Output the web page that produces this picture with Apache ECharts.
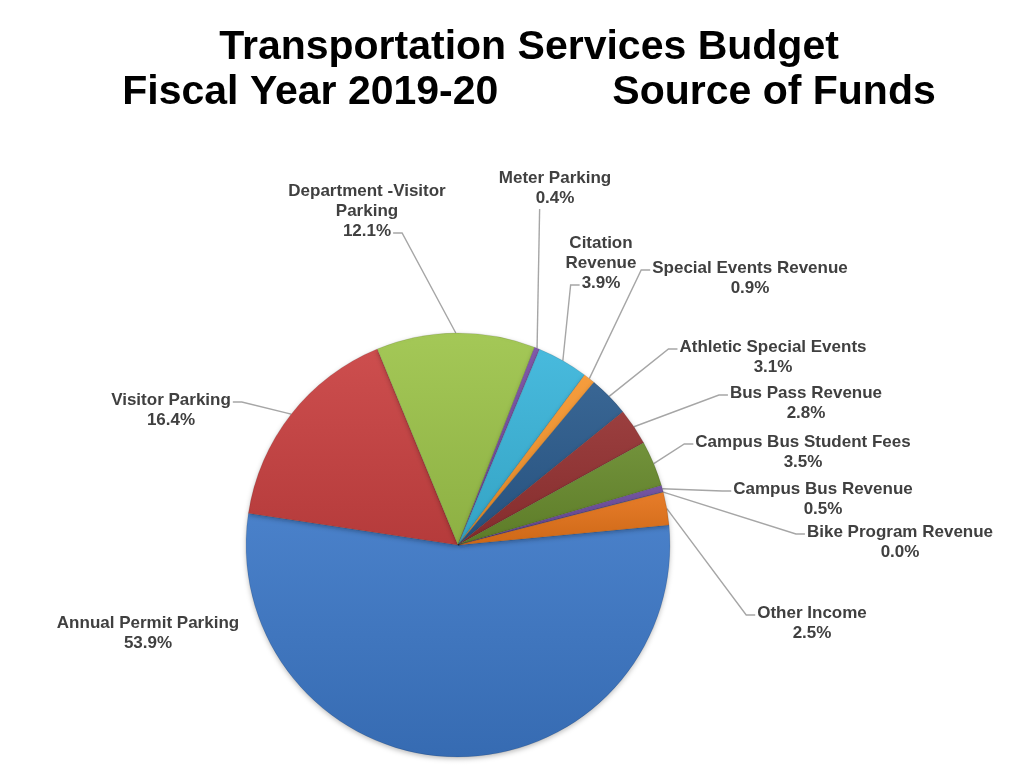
<!DOCTYPE html>
<html>
<head>
<meta charset="utf-8">
<script src="https://cdn.jsdelivr.net/npm/echarts@6/dist/echarts.min.js"></script>
<style>
  html, body { margin: 0; padding: 0; background: #ffffff; }
  #chart { width: 1024px; height: 777px; }
</style>
</head>
<body>
<div id="chart"></div>
<script>
// ---- Data ----
var categories = [
  'Annual Permit Parking',
  'Visitor Parking',
  'Department -Visitor\nParking',
  'Meter Parking',
  'Citation\nRevenue',
  'Special Events Revenue',
  'Athletic Special Events',
  'Bus Pass Revenue',
  'Campus Bus Student Fees',
  'Campus Bus Revenue',
  'Bike Program Revenue',
  'Other Income'
];
var percents = [53.9, 16.4, 12.1, 0.4, 3.9, 0.9, 3.1, 2.8, 3.5, 0.5, 0.02, 2.5];
var titleLines = ['Transportation Services Budget', 'Fiscal Year 2019-20', 'Source of Funds'];

// ---- Styling / layout (not data) ----
var sliceColors = ['#3c77c6', '#c94141', '#9dc44a', '#7a4fa6', '#3ab5da', '#f5962e',
                   '#2a5a8c', '#933131', '#678a2c', '#6b4a9c', '#2f9cc0', '#e5731a'];
// label block: centre x, top y, which text line the leader attaches to, mode
var labelSpots = [
  { cx: 148, top: 613, attach: 0 },
  { cx: 171, top: 390, attach: 0 },
  { cx: 367, top: 181, attach: 2 },
  { cx: 555, top: 168, attach: 1, below: true },
  { cx: 601, top: 233, attach: 2 },
  { cx: 750, top: 258, attach: 0 },
  { cx: 773, top: 337, attach: 0 },
  { cx: 806, top: 383, attach: 0 },
  { cx: 803, top: 432, attach: 0 },
  { cx: 823, top: 479, attach: 0 },
  { cx: 900, top: 522, attach: 0 },
  { cx: 812, top: 603, attach: 0 }
];
var LABEL_FONT = 'bold 17px Arial, "Liberation Sans", sans-serif';
var LH = 20;

function mix(hex, target, t) {
  var c = parseInt(hex.slice(1), 16);
  var r = (c >> 16) & 255, g = (c >> 8) & 255, b = c & 255;
  r = Math.round(r + (target - r) * t);
  g = Math.round(g + (target - g) * t);
  b = Math.round(b + (target - b) * t);
  return 'rgb(' + r + ',' + g + ',' + b + ')';
}
var measureCtx = document.createElement('canvas').getContext('2d');
function textWidth(s) {
  measureCtx.font = LABEL_FONT;
  return measureCtx.measureText(s).width;
}

var seriesData = categories.map(function (name, i) {
  var item = {
    name: name,
    value: percents[i],
    itemStyle: {
      color: new echarts.graphic.LinearGradient(0, 0, 0, 1, [
        { offset: 0, color: mix(sliceColors[i], 255, 0.07) },
        { offset: 1, color: mix(sliceColors[i], 0, 0.1) }
      ])
    }
  };
  if (i === 0) { item.labelLine = { show: false }; }
  return item;
});

var chart = echarts.init(document.getElementById('chart'), null, { renderer: 'canvas' });
chart.setOption({
  backgroundColor: '#ffffff',
  animation: false,
  title: {
    text: titleLines[0] + '\n' + titleLines[1] + '          ' + titleLines[2],
    left: 529,
    top: 25,
    padding: 0,
    textAlign: 'center',
    textStyle: {
      fontFamily: 'Arial, "Liberation Sans", sans-serif',
      fontWeight: 'bold',
      fontSize: 41,
      lineHeight: 45,
      color: '#000000'
    }
  },
  series: [{
    type: 'pie',
    center: [458, 545],
    radius: 212,
    startAngle: 5.4,
    clockwise: true,
    avoidLabelOverlap: false,
    minAngle: 0,
    data: seriesData,
    itemStyle: {
      borderColor: 'rgba(0,0,0,0.18)',
      borderWidth: 0.6,
      shadowBlur: 5,
      shadowOffsetY: 2,
      shadowColor: 'rgba(0,0,0,0.25)'
    },
    label: {
      show: true,
      position: 'outside',
      formatter: function (p) {
        var v = p.value;
        return p.name + '\n' + v.toFixed(1) + '%';
      },
      fontFamily: 'Arial, "Liberation Sans", sans-serif',
      fontWeight: 'bold',
      fontSize: 17,
      lineHeight: LH,
      color: '#404040',
      align: 'center'
    },
    labelLine: {
      show: true,
      smooth: false,
      length: 10,
      length2: 10,
      lineStyle: { color: '#a6a6a6', width: 1.4 }
    },
    labelLayout: function (p) {
      var spec = labelSpots[p.dataIndex];
      var lines = (p.text || '').split('\n');
      var res = { x: spec.cx, y: spec.top, align: 'center', verticalAlign: 'top' };
      if (p.labelLinePoints && p.labelLinePoints.length) {
        var start = p.labelLinePoints[0];
        if (spec.below) {
          var by = spec.top + LH * lines.length + 1;
          var w0 = textWidth(lines[spec.attach]);
          var bx = spec.cx - w0 / 2 + 4;
          res.labelLinePoints = [start, [bx, by], [bx, by]];
        } else {
          var w = textWidth(lines[spec.attach]);
          var ay = spec.top + LH * spec.attach + LH / 2 + 2;
          var fromLeft = start[0] < spec.cx;
          var ex = fromLeft ? spec.cx - w / 2 - 2 : spec.cx + w / 2 + 2;
          var tx = fromLeft ? ex - 9 : ex + 9;
          res.labelLinePoints = [start, [tx, ay], [ex, ay]];
        }
      }
      return res;
    }
  }]
});
</script>
</body>
</html>
